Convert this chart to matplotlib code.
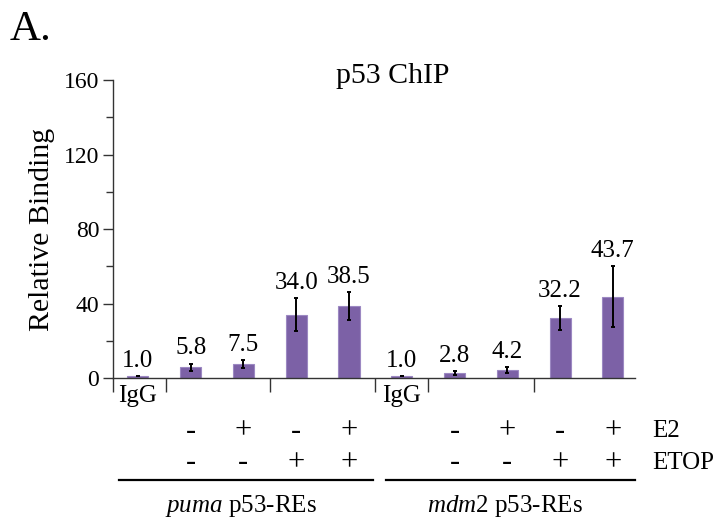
import numpy as np
import matplotlib.pyplot as plt

plt.rcParams["font.family"] = "Liberation Serif"
plt.rcParams["mathtext.fontset"] = "custom"
plt.rcParams["mathtext.rm"] = "Liberation Serif"
plt.rcParams["mathtext.it"] = "Liberation Serif:italic"

# data
values = [1.0, 5.8, 7.5, 34.0, 38.5, 1.0, 2.8, 4.2, 32.2, 43.7]
errors = [0, 2.0, 2.3, 9.0, 7.5, 0, 1.0, 1.5, 6.5, 16.5]
e2 = ["", "-", "+", "-", "+", "", "-", "+", "-", "+"]
etop = ["", "-", "-", "+", "+", "", "-", "-", "+", "+"]
groups = [r"$\mathit{puma}$ p53-REs", r"$\mathit{mdm2}$ p53-REs"]

bar_color = "#7c61a6"
x = np.arange(len(values))

fig = plt.figure(figsize=(7.2, 5.2), dpi=100)
ax = fig.add_axes([0.157, 0.273, 0.725, 0.573])

ax.bar(x, values, width=0.4, color=bar_color, edgecolor="#9c88c2", linewidth=0.8)
ax.errorbar(x, values, yerr=errors, fmt="none", ecolor="black",
            elinewidth=1.4, capsize=1.5, capthick=1.4)

for xi, v, e in zip(x, values, errors):
    ax.annotate(f"{v:.1f}", (xi, v + e), xytext=(0, 3), textcoords="offset points",
                ha="center", va="bottom", fontsize=18)

xmin, xmax = -0.47, 9.42
ax.set_xlim(xmin, xmax)
ax.set_ylim(0, 160)

for s in ["top", "right"]:
    ax.spines[s].set_visible(False)
ax.spines["left"].set_bounds(0, 160)
ax.spines["left"].set_linewidth(1.0)
ax.spines["bottom"].set_linewidth(1.0)
ax.spines["left"].set_color("#333333")
ax.spines["bottom"].set_color("#333333")

ax.set_yticks([0, 40, 80, 120, 160])
ax.set_yticks([20, 60, 100, 140], minor=True)
ax.tick_params(axis="y", which="major", length=7, width=1.0, labelsize=17, pad=3, color="#333333")
ax.tick_params(axis="y", which="minor", length=5, width=1.0, color="#333333")

ax.set_xticks([xmin, 0.53, 2.5, 4.5, 5.5, 7.5])
ax.set_xticklabels([])
ax.tick_params(axis="x", length=10, width=1.0, direction="out", color="#333333")

tr = ax.get_xaxis_transform()
for xi in [0, 5]:
    ax.text(xi, -0.06, "IgG", transform=tr, ha="center", va="center", fontsize=18)
for xi, a, b in zip(x, e2, etop):
    if a:
        ax.text(xi, -0.178, a, transform=tr, ha="center", va="center", fontsize=22)
        ax.text(xi, -0.285, b, transform=tr, ha="center", va="center", fontsize=22)
ax.text(9.75, -0.178, "E2", transform=tr, ha="left", va="center", fontsize=18)
ax.text(9.75, -0.285, "ETOP", transform=tr, ha="left", va="center", fontsize=18)

for (x0, x1), label in zip([(-0.36, 4.45), (4.70, 9.41)], groups):
    ax.plot([x0, x1], [-0.342, -0.342], transform=tr, color="black", lw=1.6, clip_on=False)
    ax.text((x0 + x1) / 2 - 0.1, -0.43, label, transform=tr, ha="center", va="center", fontsize=18)

fig.text(0.546, 0.840, "p53 ChIP", ha="center", va="baseline", fontsize=21.5)
fig.text(0.014, 0.923, "A.", ha="left", va="baseline", fontsize=31)
fig.text(0.058, 0.558, "Relative Binding", rotation=90, ha="center", va="center", fontsize=21.5)

fig.savefig("out.png", dpi=100)
